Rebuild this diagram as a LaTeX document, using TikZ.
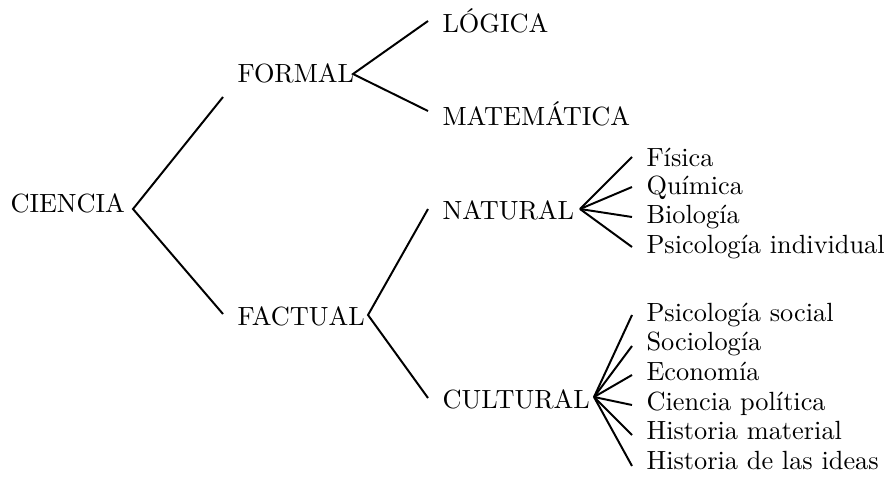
\documentclass[tikz,border=0pt]{standalone}
\begin{document}
\begin{tikzpicture}[x=0.38pt,y=-0.38pt,
  lbl/.style={anchor=base west,inner sep=0pt,font=\fontsize{10}{12}\selectfont},
  br/.style={line width=0.75pt}]
\useasboundingbox (0,0) rectangle (888,480);
% nodes
\node[lbl] (ci) at (10,212) {CIENCIA};
\node[lbl] (fo) at (237,83) {FORMAL};
\node[lbl] (fa) at (237,325) {FACTUAL};
\node[lbl] (lo) at (442,33) {LÓGICA};
\node[lbl] (ma) at (442,125) {MATEMÁTICA};
\node[lbl] (na) at (442,219) {NATURAL};
\node[lbl] (cu) at (442,408) {CULTURAL};
\node[lbl] (n1) at (646,166) {Física};
\node[lbl] (n2) at (646,194) {Química};
\node[lbl] (n3) at (646,223) {Biología};
\node[lbl] (n4) at (646,253) {Psicología individual};
\node[lbl] (c1) at (646,321) {Psicología social};
\node[lbl] (c2) at (646,350) {Sociología};
\node[lbl] (c3) at (646,380) {Economía};
\node[lbl] (c4) at (646,410) {Ciencia política};
\node[lbl] (c5) at (646,439) {Historia material};
\node[lbl] (c6) at (646,469) {Historia de las ideas};
% branch points
\coordinate (ciA) at (133,209);
\coordinate (foA) at (353,74);
\coordinate (faA) at (368,315);
\coordinate (naA) at (580,209);
\coordinate (cuA) at (594,397);
\coordinate (foE) at (223,97);
\coordinate (faE) at (223,314);
\coordinate (loE) at (428,21);
\coordinate (maE) at (428,111);
\coordinate (naE) at (428,209);
\coordinate (cuE) at (428,398);
\coordinate (n1E) at (632,157);
\coordinate (n2E) at (632,187);
\coordinate (n3E) at (632,217);
\coordinate (n4E) at (632,247);
\coordinate (c1E) at (632,315);
\coordinate (c2E) at (632,346);
\coordinate (c3E) at (632,375);
\coordinate (c4E) at (632,405);
\coordinate (c5E) at (632,435);
\coordinate (c6E) at (632,466);
% connectors
\draw[br] (foE) -- (ciA) -- (faE);
\draw[br] (loE) -- (foA) -- (maE);
\draw[br] (naE) -- (faA) -- (cuE);
\foreach \k in {n1E,n2E,n3E,n4E} \draw[br] (naA) -- (\k);
\foreach \k in {c1E,c2E,c3E,c4E,c5E,c6E} \draw[br] (cuA) -- (\k);
\end{tikzpicture}
\end{document}
